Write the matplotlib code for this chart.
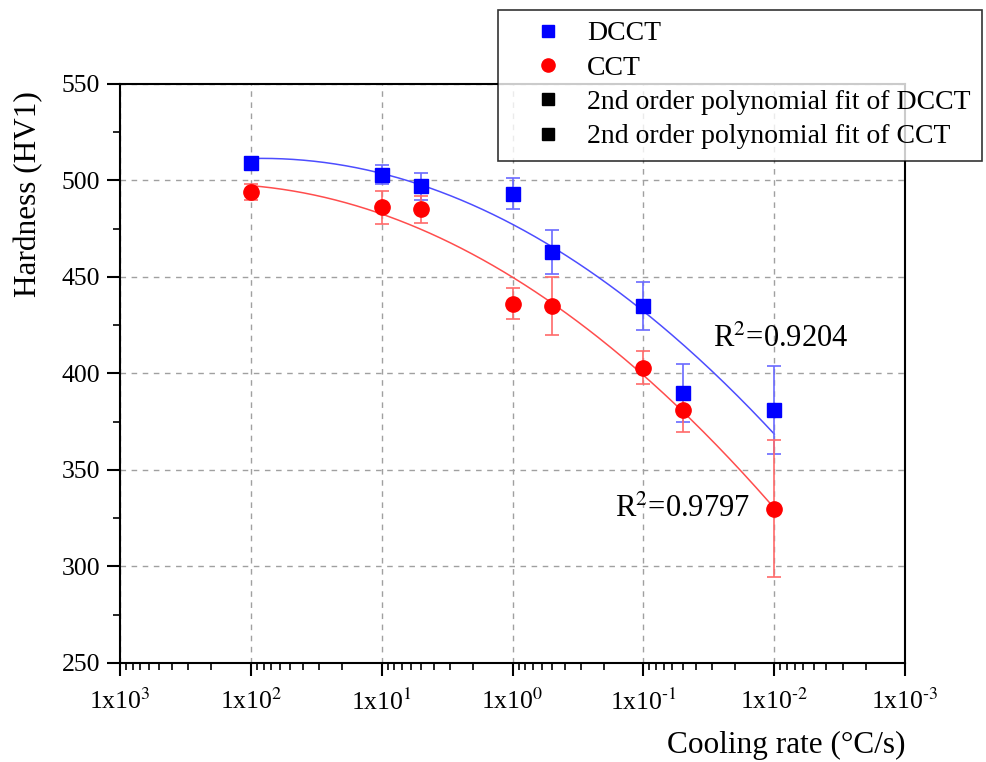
import numpy as np
import matplotlib
matplotlib.use("Agg")
import matplotlib.pyplot as plt
from matplotlib.lines import Line2D
from matplotlib.ticker import FixedLocator, LogLocator, NullFormatter, MultipleLocator

plt.rcParams["font.family"] = ["Liberation Serif", "DejaVu Serif"]
plt.rcParams["mathtext.fontset"] = "stix"

# datos
rate = [100, 10, 5, 1, 0.5, 0.1, 0.05, 0.01]
dcct = [509, 503, 497, 493, 463, 435, 390, 381]
dcct_err = [3, 5, 7, 8, 11.5, 12.5, 15, 23]
cct = [494, 486, 485, 436, 435, 403, 381, 330]
cct_err = [4, 8.5, 7, 8, 15, 8.5, 11.5, 35.5]

xticks = [1e3, 1e2, 1e1, 1e0, 1e-1, 1e-2, 1e-3]
xticklabels = [r"1x10$^{3}$", r"1x10$^{2}$", r"1x10$^{1}$", r"1x10$^{0}$",
               r"1x10$^{\text{-}1}$", r"1x10$^{\text{-}2}$", r"1x10$^{\text{-}3}$"]

fig = plt.figure(figsize=(9.87, 7.62), dpi=100)
ax = fig.add_axes([0.1216, 0.13, 0.7955, 0.76])

# ajuste polinomico de 2do orden en log10(x)
lx = np.log10(rate)
xs = np.logspace(np.log10(max(rate)), np.log10(min(rate)), 200)
p_d = np.polyfit(lx, dcct, 2)
p_c = np.polyfit(lx, cct, 2)
ax.plot(xs, np.polyval(p_d, np.log10(xs)), color="#4d4dff", lw=1.1, zorder=2)
ax.plot(xs, np.polyval(p_c, np.log10(xs)), color="#ff4d4d", lw=1.1, zorder=2)

ax.errorbar(rate, dcct, yerr=dcct_err, fmt="s", color="#0000ff", ms=10,
            ecolor="#6a6aff", elinewidth=1.2, capsize=5, capthick=1.2, zorder=3)
ax.errorbar(rate, cct, yerr=cct_err, fmt="o", color="#ff0000", ms=11,
            ecolor="#ff6a6a", elinewidth=1.2, capsize=5, capthick=1.2, zorder=3)

ax.set_xscale("log")
ax.set_xlim(1e3, 1e-3)
ax.set_ylim(250, 550)
ax.xaxis.set_major_locator(FixedLocator(xticks))
ax.set_xticklabels(xticklabels)
ax.xaxis.set_minor_locator(LogLocator(base=10, subs=np.arange(2, 10)))
ax.xaxis.set_minor_formatter(NullFormatter())
ax.yaxis.set_major_locator(MultipleLocator(50))
ax.yaxis.set_minor_locator(MultipleLocator(25))

ax.tick_params(which="major", direction="out", length=9.5, width=1.5, labelsize=18.5, pad=5)
ax.tick_params(which="minor", direction="out", length=5, width=1.2)
ax.tick_params(axis="x", which="major", pad=9)
for s in ax.spines.values():
    s.set_linewidth(1.5)

ax.grid(True, which="major", linestyle=(0, (4, 4)), color="#a0a0a0", lw=1)

ax.set_ylabel("Hardness (HV1)", fontsize=22.5)
ax.yaxis.set_label_coords(-0.098, 0.81)
ax.set_xlabel("Cooling rate (°C/s)", fontsize=22.5, ha="right")
ax.xaxis.set_label_coords(1.0, -0.118)

ax.text(0.0292, 417.4, r"R$^{2}$=0.9204", fontsize=22, va="center", ha="left")
ax.text(0.164, 329.3, r"R$^{2}$=0.9797", fontsize=22, va="center", ha="left")

handles = [
    Line2D([], [], marker="s", color="#0000ff", ls="none", ms=8.5),
    Line2D([], [], marker="o", color="#ff0000", ls="none", ms=9.5),
    Line2D([], [], marker="s", color="black", ls="none", ms=8.5),
    Line2D([], [], marker="s", color="black", ls="none", ms=8.5),
]
labels = ["DCCT", "CCT", "2nd order polynomial fit of DCCT", "2nd order polynomial fit of CCT"]
leg = fig.legend(handles, labels, loc="upper left", bbox_to_anchor=(0.5046, 0.987),
                 fontsize=20, frameon=True, fancybox=False, edgecolor="black",
                 handlelength=2.8, handletextpad=0.0, borderpad=0.4, labelspacing=0.32,
                 borderaxespad=0)
leg.get_frame().set_linewidth(1.2)
leg.set_zorder(10)

fig.savefig("out.png", dpi=100)
